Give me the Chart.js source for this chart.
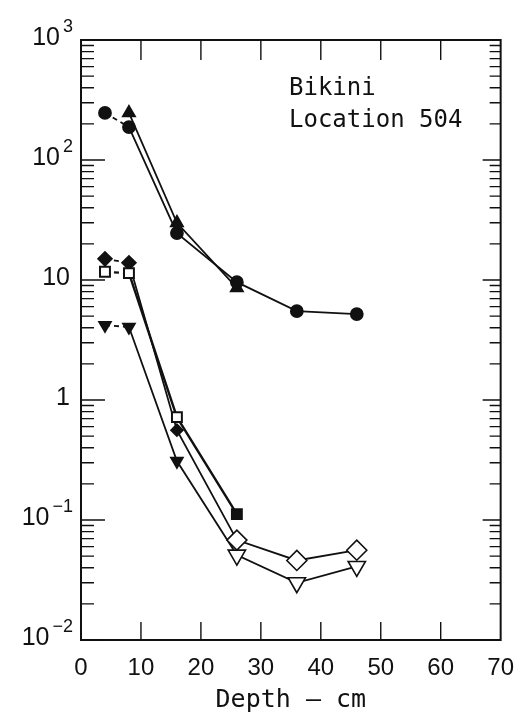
<!DOCTYPE html>
<html>
<head>
<meta charset="utf-8">
<script src="https://cdn.jsdelivr.net/npm/chart.js@4"></script>
<style>
  html, body { margin: 0; padding: 0; background: #fff; }
  #wrap { width: 520px; height: 717px; }
</style>
</head>
<body>
<div id="wrap"><canvas id="c"></canvas></div>
<script>
// depth of each sample (cm) and activity per series
var depth = [4, 8, 16, 26, 36, 46];
var circleVals = [247, 188, 24.6, 9.6, 5.5, 5.2];
var triUpDepth = [8, 16, 26];
var triUpVals = [247, 30, 8.6];
var diamondVals = [15, 13.9, 0.56, 0.068, 0.046, 0.056];
var squareDepth = [4, 8, 16, 26];
var squareVals = [11.7, 11.4, 0.72, 0.112];
var triDownVals = [4.2, 4.06, 0.31, 0.051, 0.030, 0.041];

var xTicks = [0, 10, 20, 30, 40, 50, 60, 70];
var yExponents = [-2, -1, 0, 1, 2, 3];

function pts(xs, ys) {
    return ys.map(function (y, i) { return {x: xs[i], y: y}; });
}

// first step (4 -> 8 cm) is drawn dashed
var dashFirst = {
    borderDash: function (c) { return c.p0DataIndex === 0 ? [5, 4] : undefined; }
};

// frame, inward tick marks, power-of-ten labels and the site note
var frameTicks = {
    id: 'frameTicks',
    afterDraw: function (chart) {
        var ctx = chart.ctx, a = chart.chartArea;
        var xs = chart.scales.x, ys = chart.scales.y;
        ctx.save();
        ctx.strokeStyle = '#111';
        ctx.lineWidth = 2;
        ctx.strokeRect(a.left, a.top, a.right - a.left, a.bottom - a.top);
        ctx.lineWidth = 1.4;
        ctx.beginPath();
        xTicks.slice(1, -1).forEach(function (v) {
            var px = xs.getPixelForValue(v);
            ctx.moveTo(px, a.bottom); ctx.lineTo(px, a.bottom - 18);
            ctx.moveTo(px, a.top); ctx.lineTo(px, a.top + 20);
        });
        for (var e = -2; e < 3; e++) {
            for (var m = 1; m < 10; m++) {
                var py = ys.getPixelForValue(m * Math.pow(10, e));
                var major = m === 1;
                ctx.moveTo(a.left, py); ctx.lineTo(a.left + (major ? 24 : 13), py);
                ctx.moveTo(a.right, py); ctx.lineTo(a.right - (major ? 18 : 11), py);
            }
        }
        ctx.stroke();

        ctx.fillStyle = '#111';
        var right = a.left - 10;
        yExponents.forEach(function (e) {
            var py = ys.getPixelForValue(Math.pow(10, e)) - 2;
            var base = e === 0 ? '1' : '10';
            var sup = (e === 0 || e === 1) ? '' : String(e).replace('-', '\u2212');
            ctx.font = '18px "Liberation Sans"';
            var supW = sup ? ctx.measureText(sup).width + 1 : 0;
            ctx.font = '25px "Liberation Sans"';
            ctx.textAlign = 'right';
            ctx.textBaseline = 'middle';
            ctx.fillText(base, right - supW + (sup ? 0 : -1), py);
            if (sup) {
                ctx.font = '18px "Liberation Sans"';
                ctx.textBaseline = 'alphabetic';
                ctx.fillText(sup, right + 2, py - 6);
            }
        });

        ctx.textAlign = 'left';
        ctx.textBaseline = 'alphabetic';
        ctx.font = '24px "DejaVu Sans Mono"';
        ctx.fillText('Bikini', 289, 95);
        ctx.fillText('Location 504', 289, 127);
        ctx.restore();
    }
};

var ctx = document.getElementById('c').getContext('2d');
var chart = new Chart(ctx, {
    type: 'line',
    data: {
        datasets: [{
            data: pts(depth, circleVals),
            borderColor: '#111',
            borderWidth: 1.8,
            pointStyle: 'circle',
            pointRadius: 6,
            pointBackgroundColor: '#111',
            pointBorderColor: '#111',
            segment: dashFirst
        }, {
            data: pts(triUpDepth, triUpVals),
            borderColor: '#111',
            borderWidth: 1.8,
            pointStyle: 'triangle',
            pointRadius: 7,
            pointBackgroundColor: '#111',
            pointBorderColor: '#111'
        }, {
            data: pts(squareDepth, squareVals),
            borderColor: '#111',
            borderWidth: 2.4,
            pointStyle: 'rect',
            pointRadius: [7, 7, 7, 7],
            pointBackgroundColor: ['#fff', '#fff', '#fff', '#111'],
            pointBorderColor: '#111',
            pointBorderWidth: 2,
            segment: dashFirst
        }, {
            data: pts(depth, diamondVals),
            borderColor: '#111',
            borderWidth: 1.8,
            pointStyle: 'rectRot',
            pointRadius: [7, 7, 6, 10, 10, 10],
            pointBackgroundColor: ['#111', '#111', '#111', '#fff', '#fff', '#fff'],
            pointBorderColor: '#111',
            pointBorderWidth: 1.6,
            segment: dashFirst
        }, {
            data: pts(depth, triDownVals),
            borderColor: '#111',
            borderWidth: 1.8,
            pointStyle: 'triangle',
            pointRotation: 180,
            pointRadius: [7, 7, 7, 10, 10, 10],
            pointBackgroundColor: ['#111', '#111', '#111', '#fff', '#fff', '#fff'],
            pointBorderColor: '#111',
            pointBorderWidth: 1.6,
            segment: dashFirst
        }]
    },
    options: {
        responsive: true,
        maintainAspectRatio: false,
        animation: false,
        layout: {padding: {top: 40, right: 18, left: 0, bottom: 0}},
        plugins: {legend: {display: false}, tooltip: {enabled: false}},
        scales: {
            x: {
                type: 'linear',
                min: 0,
                max: 70,
                afterFit: function (s) { s.height = 77; },
                afterBuildTicks: function (s) {
                    s.ticks = xTicks.map(function (v) { return {value: v}; });
                },
                grid: {display: false},
                border: {display: false},
                ticks: {
                    color: '#111',
                    padding: 6,
                    font: {family: 'Liberation Sans', size: 24}
                },
                title: {
                    display: true,
                    text: 'Depth \u2014 cm',
                    color: '#111',
                    padding: {top: 0, bottom: 2},
                    font: {family: 'DejaVu Sans Mono', size: 25}
                }
            },
            y: {
                type: 'logarithmic',
                min: 0.01,
                max: 1000,
                afterFit: function (s) { s.width = 81; },
                grid: {display: false},
                border: {display: false},
                ticks: {display: false}
            }
        }
    },
    plugins: [frameTicks]
});
</script>
</body>
</html>
